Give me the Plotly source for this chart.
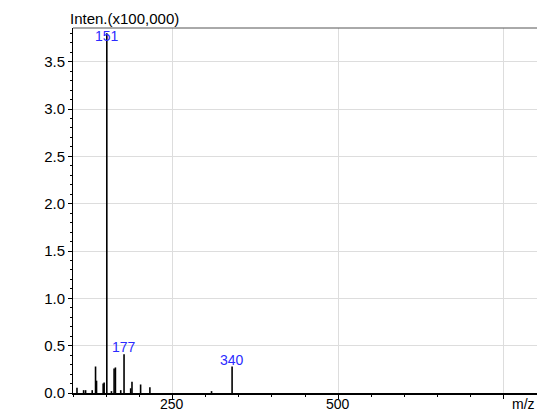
import plotly.graph_objects as go

# m/z values and intensities (x100,000)
mz = [106, 116, 119, 129, 134, 135.5, 145.5, 147, 151, 158, 162, 164, 172, 177, 187, 189, 202, 216, 309, 340]
inten = [0.055, 0.03, 0.03, 0.03, 0.28, 0.13, 0.10, 0.11, 3.80, 0.02, 0.26, 0.27, 0.03, 0.41, 0.05, 0.12, 0.09, 0.06, 0.02, 0.28]

label_mz = [151, 177, 340]
label_txt = ["151", "177", "340"]

x_range = [100, 800]
y_range = [0, 3.856]
x_tickvals = [250, 500, 750]
x_ticktext = ["250", "500", ""]
y_tickvals = [0, 0.5, 1.0, 1.5, 2.0, 2.5, 3.0, 3.5]

xs, ys = [], []
for m, v in zip(mz, inten):
    xs += [m, m, None]
    ys += [0, v, None]

fig = go.Figure()
fig.add_trace(go.Scatter(x=xs, y=ys, mode="lines",
                         line=dict(color="black", width=1.6),
                         hoverinfo="skip", showlegend=False))

font = "Liberation Sans, Arial, sans-serif"
annotations = []
for m, t in zip(label_mz, label_txt):
    v = inten[mz.index(m)]
    if v > y_range[1] * 0.97:
        annotations.append(dict(x=m, y=1, xref="x", yref="paper", text=t, showarrow=False,
                                yanchor="top", xanchor="center", yshift=2,
                                font=dict(color="#2b2bff", size=14, family=font)))
    else:
        annotations.append(dict(x=m, y=v, xref="x", yref="y", text=t, showarrow=False,
                                yanchor="bottom", xanchor="center", yshift=-3,
                                font=dict(color="#2b2bff", size=14, family=font)))

# x tick labels drawn as text just under the axis
for tv, tt in zip(x_tickvals, x_ticktext):
    if tt:
        annotations.append(dict(x=tv, y=0, xref="x", yref="paper", text=tt, showarrow=False,
                                xanchor="center", yanchor="top", yshift=-1,
                                font=dict(color="black", size=14, family=font)))

annotations.append(dict(x=0, y=1, xref="paper", yref="paper", text="Inten.(x100,000)",
                        showarrow=False, xanchor="left", yanchor="bottom", xshift=-5, yshift=-1,
                        font=dict(color="black", size=15, family=font)))
annotations.append(dict(x=1, y=0, xref="paper", yref="paper", text="m/z",
                        showarrow=False, xanchor="right", yanchor="top", yshift=-1,
                        font=dict(color="black", size=14, family=font)))

fig.update_layout(
    width=537, height=412,
    margin=dict(l=73, r=0, t=28, b=19, autoexpand=False),
    paper_bgcolor="white", plot_bgcolor="white",
    font=dict(family=font, size=15, color="black"),
    annotations=annotations,
    shapes=[dict(type="line", xref="paper", yref="paper", x0=0, x1=1, y0=1, y1=1,
                 line=dict(color="#555555", width=1))],
    xaxis=dict(range=x_range, tickvals=x_tickvals, showticklabels=False, automargin=False,
               showgrid=True, gridcolor="#dddddd", gridwidth=1,
               showline=True, linecolor="black", linewidth=2,
               ticks="outside", ticklen=4, tickcolor="black", tickwidth=1,
               minor=dict(dtick=50, tick0=0, ticks="outside", ticklen=2, tickcolor="black", showgrid=False),
               zeroline=False, fixedrange=True),
    yaxis=dict(range=y_range, tickvals=y_tickvals, tickformat=".1f", automargin=False,
               showgrid=True, gridcolor="#dddddd", gridwidth=1,
               showline=True, linecolor="black", linewidth=1,
               ticks="outside", ticklen=4, tickcolor="black", tickwidth=1,
               minor=dict(dtick=0.1, tick0=0, ticks="outside", ticklen=2, tickcolor="black", showgrid=False),
               zeroline=False, fixedrange=True, tickfont=dict(size=15)),
)

fig.write_html("out.html")
